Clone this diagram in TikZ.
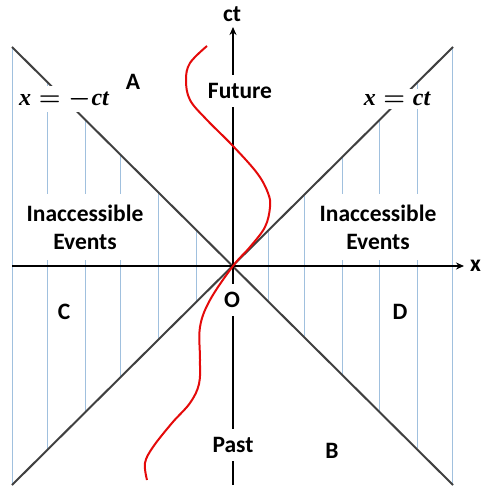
\documentclass[tikz,border=0pt]{standalone}
\usepackage{fontspec}
\setmainfont{Carlito}
\newfontfamily\mserif{Liberation Serif}
\usetikzlibrary{arrows.meta}
\definecolor{gridblue}{RGB}{160,192,222}
\definecolor{conegray}{RGB}{64,64,64}
\definecolor{worldred}{RGB}{228,10,10}
\tikzset{
  gridline/.style={draw=gridblue, line width=0.9pt},
  coneline/.style={draw=conegray, line width=2pt},
  axisline/.style={draw=black, line width=2pt},
  lbl/.style={font=\fontsize{23.5}{28}\selectfont\bfseries, inner sep=1pt},
  boxlbl/.style={lbl, fill=white, align=center},
  mathlbl/.style={fill=white, inner sep=3pt, font=\fontsize{24}{28}\selectfont\mserif\bfseries\boldmath},
}
\newcommand{\mv}[1]{{\itshape #1}}
\newcommand{\eqsym}{\hspace{0.32em}$=$\hspace{0.32em}}
\newcommand{\minsym}{$-$\hspace{0.04em}}
\begin{document}
\begin{tikzpicture}[x=1pt,y=-1pt]
\useasboundingbox (0,0) rectangle (480,489);
% grid lines, upper half
\foreach \x/\y in {12/47,47/82,85/119,120/154,158/192,196/229,268/231,304/196,342/158,379/121,417/82,452/47}{
  \draw[gridline] (\x,\y) -- (\x,266);
}
% grid lines, lower half
\foreach \x/\y in {12/485,47/450,85/413,120/378,158/340,196/303,268/301,304/336,342/374,379/411,417/448,452/484}{
  \draw[gridline] (\x,266) -- (\x,\y);
}
% light cone
\coordinate (O) at (233,266);
\coordinate (tl) at (12,47);
\coordinate (tr) at (453,47);
\coordinate (bl) at (12,485);
\coordinate (br) at (453,485);
\draw[coneline] (tl) -- (br);
\draw[coneline] (tr) -- (bl);
% axes
\coordinate (xs) at (12,266);
\coordinate (xe) at (464,266);
\coordinate (ys) at (233,485);
\coordinate (ye) at (233,27);
\draw[axisline, -{Stealth[length=8pt,width=7pt]}] (xs) -- (xe);
\draw[axisline, -{Stealth[length=8pt,width=7pt]}] (ys) -- (ye);
\node[lbl] (ct) at (232,14) {ct};
\node[lbl, anchor=west] (xl) at (469,266) {x};
% labels
\node[boxlbl, minimum height=66pt, inner xsep=2pt] (inL) at (85,227) {Inaccessible\\Events};
\node[boxlbl, minimum height=66pt, inner xsep=2pt] (inR) at (378,227) {Inaccessible\\Events};
\node[boxlbl, inner ysep=8pt] (fut) at (240,91) {Future};
\node[boxlbl, inner ysep=8pt] (past) at (233,445) {Past};
\node[boxlbl, inner ysep=8pt, inner xsep=2pt] (o) at (232,300) {O};
\node[lbl] (A) at (133,82) {A};
\node[lbl] (B) at (332,451) {B};
\node[lbl] (C) at (64,312) {C};
\node[lbl] (D) at (400,312) {D};
\node[mathlbl] (ml) at (64,99) {\mv{x}\eqsym\minsym\mv{ct}};
\node[mathlbl] (mr) at (397,99) {\mv{x}\eqsym\mv{ct}};
% world line
\draw[worldred, line width=2pt] plot[smooth, tension=0.6] coordinates {
 (207,46) (190,63) (186,80) (190,100) (207,120) (232,145) (257,173) (268,193)
 (270,207) (265,227) (250,247) (233,266) (210,300) (200,327) (200,360)
 (199,384) (190,403) (172,423) (153,447) (145,463) (147,480)};
\end{tikzpicture}
\end{document}
